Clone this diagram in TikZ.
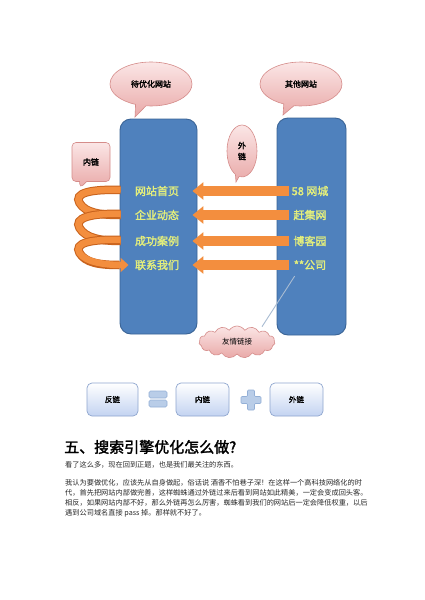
\documentclass[tikz,border=0pt]{standalone}
\usepackage{fontspec}
\newfontfamily\cjk[AutoFakeBold=2]{Noto Sans CJK SC}
\usetikzlibrary{shapes.callouts,shapes.symbols,arrows.meta,calc}
\definecolor{siteblue}{HTML}{4F81BD}
\definecolor{siteborder}{HTML}{3A6496}
\definecolor{pinktop}{HTML}{FBE6E6}
\definecolor{pinkbot}{HTML}{E9A9A8}
\definecolor{pinkborder}{HTML}{D58C8A}
\definecolor{orangec}{HTML}{F38E3E}
\definecolor{orangedark}{HTML}{C8621C}
\definecolor{linkgreen}{HTML}{E3EE7C}
\definecolor{boxblue}{HTML}{C3D3F1}
\definecolor{boxborder}{HTML}{8FA6CF}
\definecolor{symfill}{HTML}{B9CDE8}
\definecolor{symborder}{HTML}{93AFD6}
\definecolor{callgray}{HTML}{A9BCD2}
\definecolor{bodytext}{HTML}{2A2A2A}
\tikzset{
  site/.style={rounded corners=11pt, fill=siteblue, draw=siteborder, line width=0.9pt},
  pinkfill/.style={top color=pinktop, bottom color=pinkbot, draw=pinkborder, line width=0.6pt},
  bubble/.style={ellipse callout, pinkfill, inner sep=0pt, font=\cjk\bfseries\fontsize{8}{10}\selectfont},
  pagelink/.style={inner sep=0pt, text=linkgreen, font=\cjk\bfseries\fontsize{11}{13}\selectfont},
  flow/.style={line width=10pt, draw=orangec, -{Triangle[width=17pt,length=11pt]}},
  coilout/.style={line width=8.5pt, draw=orangedark},
  coilin/.style={line width=6.5pt, draw=orangec},
  eqbox/.style={rounded corners=5pt, top color=white, bottom color=boxblue, draw=boxborder, line width=0.7pt,
     minimum height=33pt, inner sep=0pt, font=\cjk\bfseries\fontsize{7.5}{9}\selectfont},
  symbar/.style={rounded corners=1.5pt, fill=symfill, draw=symborder, line width=0.6pt, minimum width=18pt, minimum height=7pt, inner sep=0pt},
  bodyline/.style={anchor=west, inner sep=0pt, text=bodytext, font=\cjk\fontsize{7.2}{9}\selectfont},
}
\begin{document}
\begin{tikzpicture}[x=1pt,y=-1pt]
\useasboundingbox[fill=white] (0,0) rectangle (424,600);

% speech bubbles
\node[bubble, minimum width=82pt, minimum height=44pt, callout absolute pointer={(135,117)}] (bubL) at (151,84) {待优化网站};
\node[bubble, minimum width=82pt, minimum height=44pt, callout absolute pointer={(283,115)}] (bubR) at (301,84) {其他网站};

% site blocks
\node[site, minimum width=77pt, minimum height=215pt] (left) at (158.5,226.5) {};
\node[site, minimum width=69pt, minimum height=217pt] (right) at (311.5,226.5) {};

% outer-link bubble
\node[bubble, minimum width=30pt, minimum height=52pt, align=center, callout absolute pointer={(236,182)}] (outb) at (242,151) {外\\[1pt]链};
% inner-link note
\node[rectangle callout, rounded corners=4pt, pinkfill, minimum width=38pt, minimum height=39pt, inner sep=0pt,
      font=\cjk\bfseries\fontsize{8}{10}\selectfont, callout absolute pointer={(80,188)}] (inb) at (91,162) {内链};

% page texts
\node[pagelink] (l1) at (157,191) {网站首页};
\node[pagelink] (l2) at (157,215) {企业动态};
\node[pagelink] (l3) at (157,241) {成功案例};
\node[pagelink] (l4) at (157,265) {联系我们};
\node[pagelink] (r1) at (310,191) {58 网城};
\node[pagelink] (r2) at (310,215) {赶集网};
\node[pagelink] (r3) at (310,241) {博客园};
\node[pagelink] (r4) at (310,265) {**公司};

% link arrows
\foreach \i in {1,2,3,4}{
  \draw[flow] ($(r\i.west -| right.west)+(12,0)$) -- ($(l\i.east -| left.east)+(-5,0)$);
}

% inner-link coil
\foreach \a/\b in {1/2,2/3}{
  \draw[coilout] ($(l\a.west -| left.west)+(1,-1)$) .. controls +(-30,-1) and +(-6,-10) .. ($(l\a.west -| left.west)!0.5!(l\b.west -| left.west)+(-40,0)$)
        .. controls +(6,10) and +(-20,0) .. ($(l\b.west -| left.west)+(1,0)$);
  \draw[coilin] ($(l\a.west -| left.west)+(1,-1)$) .. controls +(-30,-1) and +(-6,-10) .. ($(l\a.west -| left.west)!0.5!(l\b.west -| left.west)+(-40,0)$)
        .. controls +(6,10) and +(-20,0) .. ($(l\b.west -| left.west)+(1,0)$);
}
\draw[coilout] ($(l3.west -| left.west)+(1,-1)$) .. controls +(-30,-1) and +(-6,-10) .. ($(l3.west -| left.west)!0.5!(l4.west -| left.west)+(-40,0)$)
      .. controls +(6,10) and +(-20,0) .. ($(l4.west -| left.west)+(0,0)$);
\draw[coilin, -{Triangle[width=14pt,length=8pt]}] ($(l3.west -| left.west)+(1,-1)$) .. controls +(-30,-1) and +(-6,-10) .. ($(l3.west -| left.west)!0.5!(l4.west -| left.west)+(-40,0)$)
      .. controls +(6,10) and +(-20,0) .. ($(l4.west -| left.west)+(9,0)$);

% friendly-link cloud
\node[cloud, cloud puffs=15, cloud puff arc=115, aspect=2.4, pinkfill, minimum width=76pt, minimum height=32pt, inner sep=0pt,
      font=\cjk\fontsize{7.5}{9}\selectfont] (cloud) at (237,342) {友情链接};
\draw[callgray, line width=0.9pt] ($(r4.south west)+(1,6)$) -- ($(cloud.north)+(25,1)$);

% equation
\node[eqbox, minimum width=51pt] (fan) at (112.5,399.5) {反链};
\node[symbar] (eq1) at (158,394.5) {};
\node[symbar] (eq2) at (158,403.5) {};
\node[eqbox, minimum width=53pt] (nei) at (202.5,399.5) {内链};
\coordinate (plus) at (251,400);
\draw[fill=symfill, draw=symborder, line width=0.6pt, rounded corners=1pt]
  ($(plus)+(-3.5,-10)$) -- ($(plus)+(3.5,-10)$) -- ($(plus)+(3.5,-3.5)$) -- ($(plus)+(10,-3.5)$) -- ($(plus)+(10,3.5)$)
  -- ($(plus)+(3.5,3.5)$) -- ($(plus)+(3.5,10)$) -- ($(plus)+(-3.5,10)$) -- ($(plus)+(-3.5,3.5)$) -- ($(plus)+(-10,3.5)$)
  -- ($(plus)+(-10,-3.5)$) -- ($(plus)+(-3.5,-3.5)$) -- cycle;
\node[eqbox, minimum width=53pt] (wai) at (296.5,399.5) {外链};

% heading and text
\node[anchor=west, inner sep=0pt, text=black, font=\cjk\bfseries\fontsize{15}{17}\selectfont] (head) at (64,447) {五、搜索引擎优化怎么做?};
\node[bodyline] (p1) at (65,465) {看了这么多，现在回到正题，也是我们最关注的东西。};
\node[bodyline] (p2a) at (65,483) {我认为要做优化，应该先从自身做起，俗话说 酒香不怕巷子深！在这样一个高科技网络化的时};
\node[bodyline] (p2b) at (65,493) {代，首先把网站内部做完善，这样蜘蛛通过外链过来后看到网站如此精美，一定会变成回头客。};
\node[bodyline] (p2c) at (65,503) {相反，如果网站内部不好，那么外链再怎么厉害，蜘蛛看到我们的网站后一定会降低权重，以后};
\node[bodyline] (p2d) at (65,513) {遇到公司域名直接 pass 掉。那样就不好了。};
\end{tikzpicture}
\end{document}
